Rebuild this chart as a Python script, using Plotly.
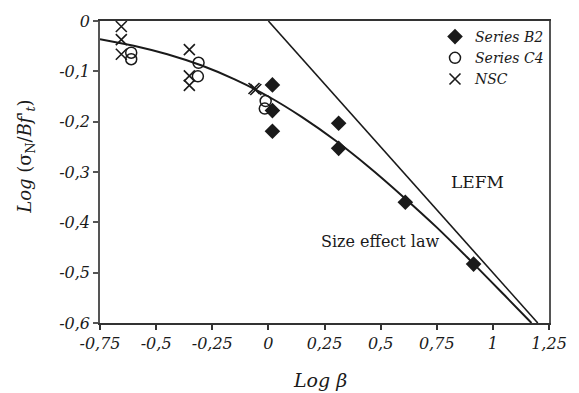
import plotly.graph_objects as go

# ---- data ----
b2_x = [0.018, 0.018, 0.018, 0.313, 0.313, 0.61, 0.914]
b2_y = [-0.127, -0.178, -0.219, -0.203, -0.253, -0.360, -0.483]

c4_x = [-0.611, -0.611, -0.311, -0.314, -0.012, -0.016]
c4_y = [-0.063, -0.076, -0.083, -0.110, -0.159, -0.174]

nsc_x = [-0.655, -0.655, -0.655, -0.352, -0.352, -0.352, -0.064, -0.056]
nsc_y = [-0.011, -0.037, -0.066, -0.057, -0.109, -0.128, -0.134, -0.136]

law_x = [-0.75, -0.6, -0.45, -0.3, -0.15, 0.0, 0.15, 0.3, 0.45, 0.6, 0.75, 0.9, 1.05, 1.172]
law_y = [-0.036, -0.049, -0.066, -0.088, -0.116, -0.150, -0.191, -0.238, -0.291, -0.349, -0.410, -0.476, -0.544, -0.600]

lefm_x = [0.0, 1.2]
lefm_y = [0.0, -0.6]

x_ticks = [-0.75, -0.5, -0.25, 0, 0.25, 0.5, 0.75, 1, 1.25]
x_ticklabels = ["-0,75", "-0,5", "-0,25", "0", "0,25", "0,5", "0,75", "1", "1,25"]
y_ticks = [0, -0.1, -0.2, -0.3, -0.4, -0.5, -0.6]
y_ticklabels = ["0", "-0,1", "-0,2", "-0,3", "-0,4", "-0,5", "-0,6"]

FONT = "DejaVu Serif"
INK = "#1a1a1a"

fig = go.Figure()

fig.add_trace(go.Scatter(x=law_x, y=law_y, mode="lines", line=dict(color=INK, width=2, shape="spline"),
                         showlegend=False, cliponaxis=False))
fig.add_trace(go.Scatter(x=lefm_x, y=lefm_y, mode="lines", line=dict(color=INK, width=1.6),
                         showlegend=False, cliponaxis=False))

fig.add_trace(go.Scatter(x=b2_x, y=b2_y, mode="markers", name="Series B2",
                         marker=dict(symbol="diamond", size=12, color=INK, line=dict(width=0)),
                         cliponaxis=False))
fig.add_trace(go.Scatter(x=c4_x, y=c4_y, mode="markers", name="Series C4",
                         marker=dict(symbol="circle-open", size=11, color=INK, line=dict(width=1.5)),
                         cliponaxis=False))
fig.add_trace(go.Scatter(x=nsc_x, y=nsc_y, mode="markers", name="NSC",
                         marker=dict(symbol="x-thin-open", size=11, color=INK, line=dict(width=1.6)),
                         cliponaxis=False))

fig.update_layout(
    width=579, height=393,
    margin=dict(l=100, r=24, t=16, b=70),
    paper_bgcolor="white", plot_bgcolor="white",
    showlegend=True,
    legend=dict(x=1.0, xanchor="right", y=1.0, yanchor="top",
                bgcolor="rgba(0,0,0,0)", borderwidth=0, tracegroupgap=0,
                font=dict(family=FONT, size=14, color=INK, style="italic"),
                itemwidth=30),
    font=dict(family=FONT, color=INK),
)

fig.update_xaxes(range=[-0.75, 1.25], tickvals=x_ticks, ticktext=x_ticklabels,
                 showgrid=False, zeroline=False, showline=True, linecolor="#333", linewidth=1.5,
                 mirror=True, ticks="outside", ticklen=5, tickcolor="#333", tickwidth=1.5,
                 tickfont=dict(family=FONT, size=16, color=INK, style="italic"))
fig.update_yaxes(range=[-0.6, 0], tickvals=y_ticks, ticktext=y_ticklabels,
                 showgrid=False, zeroline=False, showline=True, linecolor="#555", linewidth=1.5,
                 mirror=True, ticks="outside", ticklen=5, tickcolor="#555", tickwidth=1.5,
                 tickfont=dict(family=FONT, size=16, color=INK, style="italic"))

fig.add_annotation(text="<i>Log β</i>", xref="paper", yref="paper", x=0.489, y=-0.19,
                   xanchor="center", yanchor="middle", showarrow=False,
                   font=dict(family=FONT, size=19, color=INK))
fig.add_annotation(text="<i>Log</i> (σ<sub>N</sub>/<i>Bf'<sub>t</sub></i>)", xref="paper", yref="paper",
                   x=-0.165, y=0.55, textangle=-90, xanchor="center", yanchor="middle", showarrow=False,
                   font=dict(family=FONT, size=18, color=INK))
fig.add_annotation(text="LEFM", x=0.93, y=-0.319, xref="x", yref="y", showarrow=False,
                   font=dict(family=FONT, size=17, color=INK))
fig.add_annotation(text="Size effect law", x=0.50, y=-0.438, xref="x", yref="y", showarrow=False,
                   font=dict(family=FONT, size=16, color=INK))

fig.write_html("out.html")
